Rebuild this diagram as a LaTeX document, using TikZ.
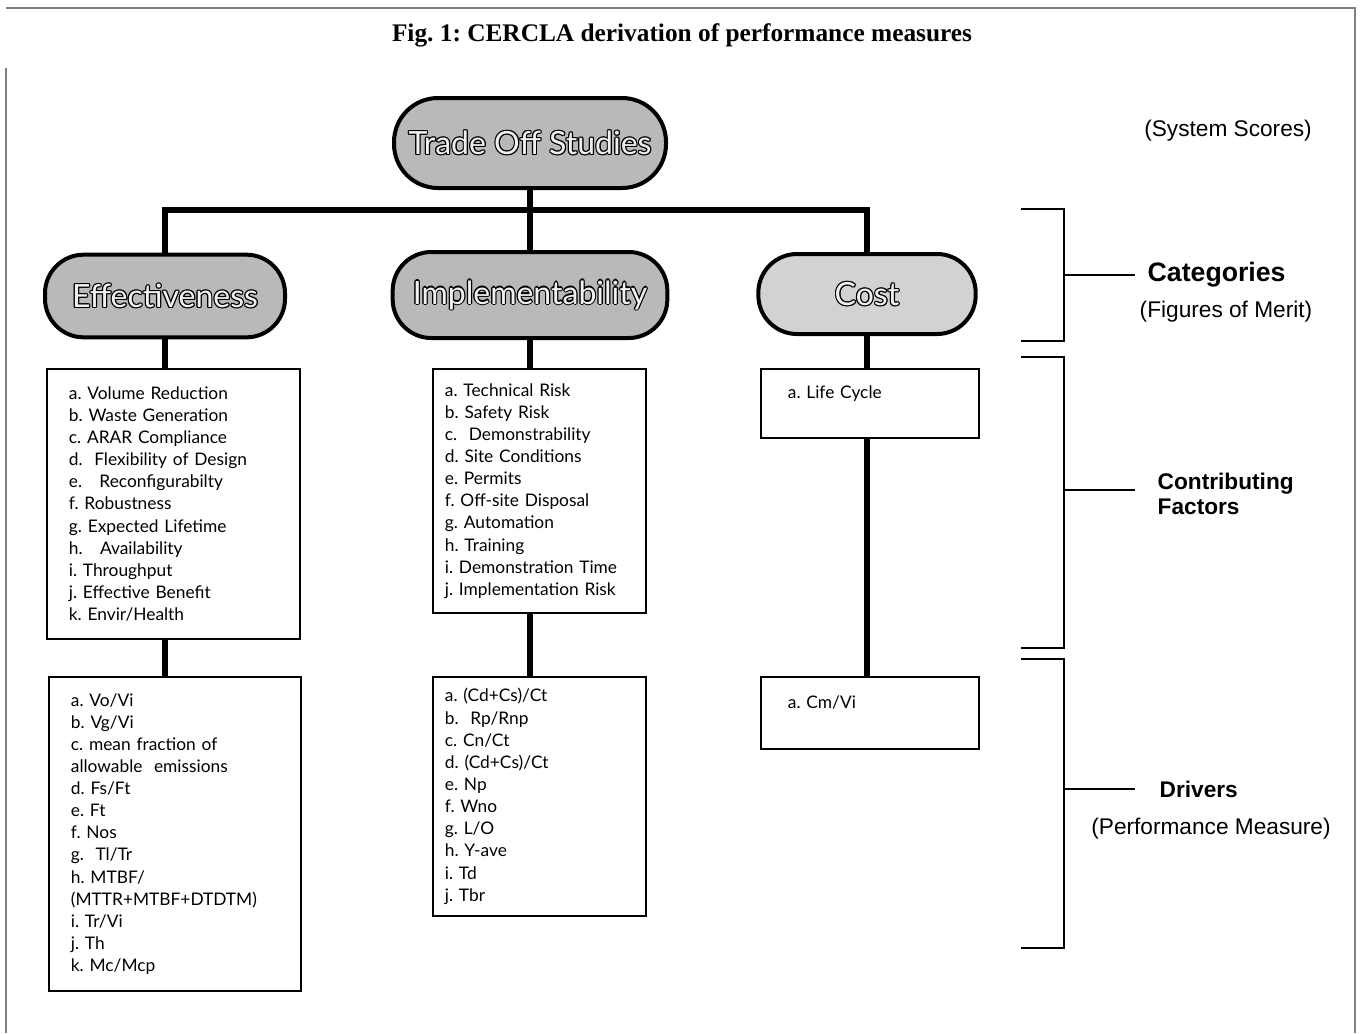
\documentclass[tikz,border=0pt]{standalone}
\usepackage{fontspec}
\setmainfont{Liberation Serif}
\setsansfont{Liberation Sans}
\newfontfamily\listfont{Lato}
\usetikzlibrary{positioning,calc}

% dark ring round light letters, as on the shaded heads
\newcommand{\ringtext}[1]{%
  \foreach \dx/\dy in {.9/0,-.9/0,0/.9,0/-.9,.65/.65,-.65/.65,.65/-.65,-.65/-.65}{%
    \rlap{\kern\dx pt\raisebox{\dy pt}{\textcolor{black}{#1}}}}%
  \textcolor{gray!12}{#1}}

\begin{document}
\begin{tikzpicture}[x=0.75pt, y=-0.75pt,
  pill/.style={draw, line width=3pt, rounded corners=29pt, fill=gray!55, font=\listfont\fontsize{24}{28}\selectfont},
  list/.style={draw, line width=1.4pt, align=left, anchor=north west, inner ysep=0pt, font=\listfont\fontsize{13}{16.6}\selectfont\frenchspacing},
  link/.style={line width=4.5pt},
  brack/.style={line width=1.5pt},
  tick/.style={line width=1.2pt},
  head/.style={font=\sffamily\bfseries\fontsize{17}{19}\selectfont, align=left, anchor=west},
  note/.style={font=\sffamily\fontsize{17}{20}\selectfont}]
\useasboundingbox (0,0) rectangle (1362,1033);
\draw[gray, line width=0.8pt] (6,1033) -- (6,68);
\draw[gray, line width=0.8pt] (6,8) -- (1355,8) -- (1355,1033);

\node[font=\rmfamily\bfseries\fontsize{19}{22}\selectfont\frenchspacing] (title) at (682,35) {Fig. 1: CERCLA derivation of performance measures};

% shaded heads
\node[pill, minimum width=204pt, minimum height=67.5pt, rounded corners=33pt] (top) at (530,143) {\ringtext{Trade Off Studies}};
\node[pill, minimum width=180pt, minimum height=62pt] (eff) at (165,296) {\ringtext{Effectiveness}};
\node[pill, minimum width=206pt, minimum height=64.5pt] (impl) at (530,295) {\ringtext{Implementability}};
\node[pill, fill=gray!35, minimum width=163pt, minimum height=60pt] (cost) at (867,294) {\ringtext{Cost}};

% contributing factors
\node[list, inner xsep=16.5pt, text width=156.75pt, minimum height=202.5pt] (efffac) at (46,368) {%
a. Volume Reduction\\ b. Waste Generation\\ c.\ ARAR Compliance\\ d.\ \ Flexibility of Design\\
e.\ \ \ Reconfigurabilty\\ f.\ Robustness\\ g.\ Expected Lifetime\\ h.\ \ \ Availability\\
i. Throughput\\ j.\ Effective Benefit\\ k.\ Envir/Health};
\node[list, inner xsep=9pt, text width=141.75pt, minimum height=183pt] (implfac) at (432,368) {%
a.\ Technical Risk\\ b.\ Safety Risk\\ c.\ \ Demonstrability\\ d. Site Conditions\\
e.\ Permits\\ f.\ Off-site Disposal\\ g. Automation\\ h.\ Training\\
i. Demonstration Time\\ j.\ Implementation Risk};
\node[list, inner xsep=20.25pt, text width=123pt, minimum height=51.75pt] (costfac) at (760,368) {%
a.\ Life Cycle\\ \mbox{}};

% drivers
\node[list, inner xsep=16.5pt, text width=156pt, minimum height=235.5pt] (effdrv) at (48,676) {%
a.\ Vo/Vi\\ b.\ Vg/Vi\\ c. mean fraction of\\ allowable\ \ emissions\\ d.\ Fs/Ft\\
e. Ft\\ f.\ Nos\\ g.\ \ Tl/Tr\\ h.\ MTBF/\\ (MTTR+MTBF+DTDTM)\\
i.\ Tr/Vi\\ j. Th\\ k.\ Mc/Mcp};
\node[list, inner xsep=9pt, text width=141.75pt, minimum height=179.25pt] (impldrv) at (432,676) {%
a.\ (Cd+Cs)/Ct\\ b.\ \ Rp/Rnp\\ c.\ Cn/Ct\\ d.\ (Cd+Cs)/Ct\\ e. Np\\
f. Wno\\ g. L/O\\ h.\ Y-ave\\ i.\ Td\\ j.\ Tbr};
\node[list, inner xsep=20.25pt, text width=123pt, minimum height=54pt] (costdrv) at (760,676) {%
a.\ Cm/Vi\\ \mbox{}};

% tree links
\coordinate (bus) at (530,210);
\draw[link] (top.south) -- (impl.north);
\draw[link] (eff.north) |- (bus) -| (cost.north);
\draw[link] (eff.south) -- (eff.south |- efffac.north);
\draw[link] (eff.south |- efffac.south) -- (eff.south |- effdrv.north);
\draw[link] (impl.south) -- (impl.south |- implfac.north);
\draw[link] (impl.south |- implfac.south) -- (impl.south |- impldrv.north);
\draw[link] (cost.south) -- (cost.south |- costfac.north);
\draw[link] (cost.south |- costfac.south) -- (cost.south |- costdrv.north);

% levels on the right
\node[note] (score) at (1228,131) {(System Scores)};
\draw[brack] (1021,209) -| (1064,341) -- (1021,341);
\coordinate (catmid) at (1064,275);
\node[head, font=\sffamily\bfseries\fontsize{20}{23}\selectfont] (cat) at (1143,275) {Categories};
\node[note] (merit) at (1226,312) {(Figures of Merit)};
\draw[tick] (catmid) -- ++(71,0);

\draw[brack] (1021,357) -| (1064,648) -- (1021,648);
\coordinate (facmid) at (1064,490);
\node[head] (fac) at (1153,494) {Contributing\\Factors};
\draw[tick] (facmid) -- ++(71,0);

\draw[brack] (1021,659) -| (1064,948) -- (1021,948);
\coordinate (drvmid) at (1064,789);
\node[head] (drv) at (1155,789) {Drivers};
\node[note] (perf) at (1211,829) {(Performance Measure)};
\draw[tick] (drvmid) -- ++(71,0);
\end{tikzpicture}
\end{document}
